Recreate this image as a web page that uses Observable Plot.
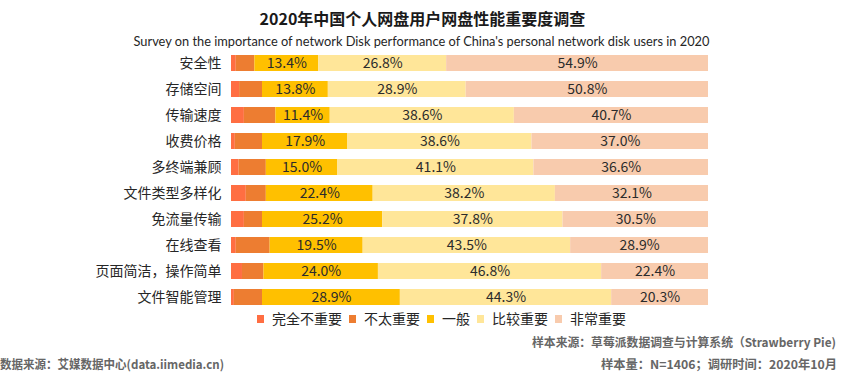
<!DOCTYPE html>
<html><head><meta charset="utf-8">
<script src="https://cdn.jsdelivr.net/npm/d3@7"></script>
<script src="https://cdn.jsdelivr.net/npm/@observablehq/plot@0.6"></script>
<style>
body{margin:0;background:#fff;font-family:"Noto Sans CJK SC","Noto Sans",sans-serif;}
#wrap{position:relative;width:845px;height:374px;overflow:hidden;background:#fff;}
#chart{position:absolute;left:0;top:0;}
.title{position:absolute;left:0;top:8px;width:845px;text-align:center;font-size:16px;line-height:20px;font-weight:bold;color:#1a1a1a;}
.subtitle{position:absolute;left:0;top:33px;width:843px;text-align:center;font-family:Lato,"Noto Sans",sans-serif;font-size:12.8px;line-height:16px;color:#262626;}
#legend{position:absolute;left:257px;top:309px;display:flex;align-items:center;font-size:14px;line-height:19px;color:#262626;}
#legend .item{display:flex;align-items:center;margin-right:7px;}
#legend .sw{width:7px;height:8px;margin-right:8px;}
#footer{position:absolute;left:0;top:0;pointer-events:none;}
</style>
</head><body>
<div id="wrap">
  <div id="chart"></div>
  <div class="title">2020年中国个人网盘用户网盘性能重要度调查</div>
  <div class="subtitle">Survey on the importance of network Disk performance of China's personal network disk users in 2020</div>
  <div id="legend"></div>
  <svg id="footer" width="845" height="374"></svg>
</div>
<script>
const categories = ["安全性","存储空间","传输速度","收费价格","多终端兼顾","文件类型多样化","免流量传输","在线查看","页面简洁，操作简单","文件智能管理"];
const levels = ["完全不重要","不太重要","一般","比较重要","非常重要"];
const colors = ["#FF6E42","#ED7D31","#FFC000","#FFE699","#F8CBAD"];
const notAtAll = [1.0,1.7,2.7,0.8,1.6,3.1,2.7,1.0,2.3,0.6];
const notVery  = [3.9,4.8,6.6,5.7,5.7,4.2,3.8,7.1,4.5,5.9];
const neutral  = [13.4,13.8,11.4,17.9,15.0,22.4,25.2,19.5,24.0,28.9];
const fairly   = [26.8,28.9,38.6,38.6,41.1,38.2,37.8,43.5,46.8,44.3];
const very     = [54.9,50.8,40.7,37.0,36.6,32.1,30.5,28.9,22.4,20.3];
const footerTexts = ["样本来源：草莓派数据调查与计算系统（Strawberry Pie)","数据来源：艾媒数据中心(data.iimedia.cn)","样本量：N=1406；调研时间：2020年10月"];

const series = [notAtAll, notVery, neutral, fairly, very];
const data = [];
categories.forEach((c, i) => {
  series.forEach((s, j) => data.push({category: c, level: levels[j], idx: j, value: s[i]}));
});

const chart = Plot.plot({
  width: 845, height: 374,
  marginLeft: 231, marginRight: 137, marginTop: 41, marginBottom: 55,
  style: {fontFamily: '"Noto Sans CJK SC","Noto Sans",sans-serif', fontSize: "14px", color: "#262626", background: "transparent"},
  x: {domain: [0, 100], axis: null},
  y: {domain: categories, padding: 0.4, label: null},
  color: {domain: levels, range: colors},
  marks: [
    Plot.barX(data, {x: "value", y: "category", fill: "level"}),
    Plot.text(data, Plot.stackX({x: "value", y: "category", text: d => d.idx >= 2 ? d.value.toFixed(1) + "%" : null, fill: "#2b2b2b", fontSize: 14})),
    Plot.axisY({tickSize: 0, tickPadding: 10, fontSize: 14, label: null})
  ]
});
document.getElementById("chart").appendChild(chart);

const legend = document.getElementById("legend");
levels.forEach((l, i) => {
  const it = document.createElement("div"); it.className = "item";
  const sw = document.createElement("div"); sw.className = "sw"; sw.style.background = colors[i];
  const tx = document.createElement("span"); tx.textContent = l;
  it.appendChild(sw); it.appendChild(tx); legend.appendChild(it);
});

const fsvg = d3.select("#footer");
const fspec = [
  {t: footerTexts[0], x: 836, y: 347, anchor: "end", len: 304},
  {t: footerTexts[1], x: 0, y: 369, anchor: "start", len: 224},
  {t: footerTexts[2], x: 837, y: 369, anchor: "end", len: 236}
];
fspec.forEach(f => {
  fsvg.append("text").attr("x", f.x).attr("y", f.y).attr("text-anchor", f.anchor)
    .attr("textLength", f.len).attr("lengthAdjust", "spacingAndGlyphs")
    .attr("font-size", 12).attr("font-weight", "bold").attr("fill", "#666")
    .attr("font-family", '"Noto Sans CJK SC",sans-serif').text(f.t);
});
</script>
</body></html>
